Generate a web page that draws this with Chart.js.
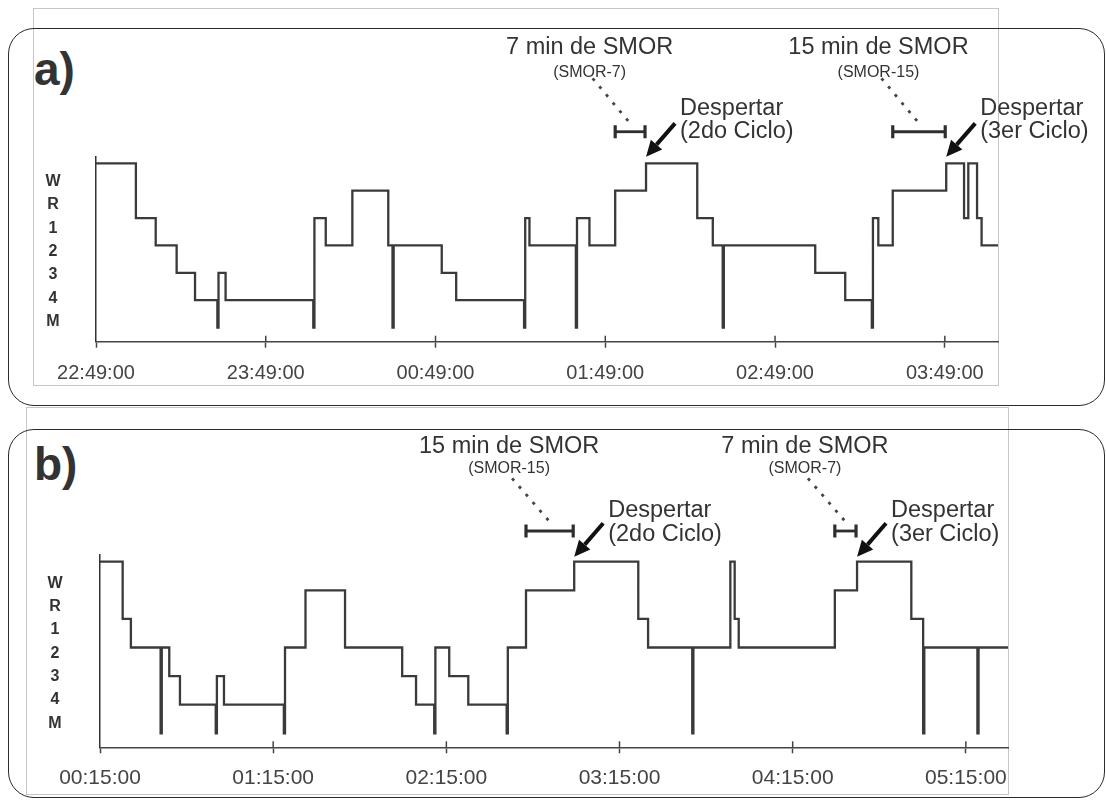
<!DOCTYPE html>
<html>
<head>
<meta charset="utf-8">
<title>Hipnogramas</title>
<script src="https://cdn.jsdelivr.net/npm/chart.js@4.4.0/dist/chart.umd.min.js"></script>
<style>
  body { margin: 0; width: 1106px; height: 803px; background: #fff; position: relative; overflow: hidden;
         font-family: "Liberation Sans", Arial, sans-serif; }
  .frame { position: absolute; border: 1px solid #c6c6c6; box-sizing: border-box; }
  .panel { position: absolute; border: 1.5px solid #2b2b2b; border-radius: 26px; box-sizing: border-box; }
  .letter { position: absolute; font-weight: bold; font-size: 46px; line-height: 46px; color: #333; }
  .holder { position: absolute; left: 0; width: 1106px; }
</style>
</head>
<body>
<div class="frame" style="left:33px;top:8px;width:966px;height:378px"></div>
<div class="panel" style="left:8px;top:28px;width:1097px;height:378px"></div>
<div class="frame" style="left:26px;top:407px;width:983px;height:388px"></div>
<div class="panel" style="left:8px;top:429px;width:1097px;height:369px"></div>
<div class="letter" style="left:34px;top:46px">a)</div>
<div class="letter" style="left:34px;top:441px">b)</div>
<div class="holder" style="top:0;height:400px"><canvas id="chartA"></canvas></div>
<div class="holder" style="top:400px;height:403px"><canvas id="chartB"></canvas></div>

<script>
// sleep stages, bottom to top
const stageNames = ['M', '4', '3', '2', '1', 'R', 'W'];

// a) minutes after 22:49:00 and the stage that starts there
const minutesA = [0, 14.1, 21.1, 28.5, 35, 42.9, 43.3, 45.8, 76.8, 77.2,
                  81.2, 90.6, 103.3, 104.8, 105.2, 122.2, 127.3, 151.3, 151.7, 153.2,
                  169.6, 170, 174.4, 183.5, 194.4, 212.5, 218, 221.5, 221.9, 254.2,
                  264.8, 274.2, 274.6, 276.5, 281.6, 300.5, 306.8, 308.3, 311.4, 313, 318.8];
const stagesA = ['W', '1', '2', '3', '4', 'M', '3', '4', 'M', '1',
                 '2', 'R', '2', 'M', '2', '3', '4', 'M', '1', '2',
                 'M', '1', '2', 'R', 'W', '1', '2', 'M', '2', '3',
                 '4', 'M', '1', '2', 'R', 'W', '1', 'W', '1', '2', '2'];
const tickMinutesA = [0, 60, 120, 180, 240, 300];
const tickLabelsA = ['22:49:00', '23:49:00', '00:49:00', '01:49:00', '02:49:00', '03:49:00'];
const wakeA = [194.4, 300.5];
const smorTitlesA = ['7 min de SMOR', '15 min de SMOR'];
const smorTagsA = ['(SMOR-7)', '(SMOR-15)'];
const cyclesA = ['(2do Ciclo)', '(3er Ciclo)'];

// b) minutes after 00:15:00
const minutesB = [0, 7.85, 10.7, 21.0, 21.4, 24, 27.7, 40.1, 40.5, 42.95,
                  63.7, 64.1, 71.2, 84.9, 104.7, 109.5, 115.8, 116.2, 121, 127.6,
                  140.9, 141.3, 147.6, 164.3, 186.5, 189.9, 205.2, 205.6, 218.4, 219.9,
                  221.3, 254.6, 262.3, 281.1, 285.2, 285.6, 304, 304.4, 314.6];
const stagesB = ['W', '1', '2', 'M', '2', '3', '4', 'M', '3', '4',
                 'M', '2', 'R', '2', '3', '4', 'M', '2', '3', '4',
                 'M', '2', 'R', 'W', '1', '2', 'M', '2', 'W', '1',
                 '2', 'R', 'W', '1', 'M', '2', 'M', '2', '2'];
const tickMinutesB = [0, 60, 120, 180, 240, 300];
const tickLabelsB = ['00:15:00', '01:15:00', '02:15:00', '03:15:00', '04:15:00', '05:15:00'];
const wakeB = [164.3, 262.3];
const smorTitlesB = ['15 min de SMOR', '7 min de SMOR'];
const smorTagsB = ['(SMOR-15)', '(SMOR-7)'];
const cyclesB = ['(2do Ciclo)', '(3er Ciclo)'];

const BIG = '23.5px "Liberation Sans", Arial, sans-serif';
const SMALL = '16px "Liberation Sans", Arial, sans-serif';

// REM bracket, dotted leader, labels and wake arrow for each awakening
const hypnoNotes = {
  id: 'hypnoNotes',
  afterDraw(chart, args, o) {
    const ctx = chart.ctx;
    const xs = chart.scales.x;
    const ys = chart.scales.y;
    const L = o.layout;
    ctx.save();

    // tick marks also rise above the time axis
    ctx.strokeStyle = '#444';
    ctx.lineWidth = 1.5;
    xs.ticks.forEach((t, i) => {
      if (i === 0) return;
      const px = xs.getPixelForValue(t.value);
      ctx.beginPath();
      ctx.moveTo(px, xs.top);
      ctx.lineTo(px, xs.top - 6);
      ctx.stroke();
    });

    const wY = ys.getPixelForValue(stageNames.indexOf('W'));
    o.wake.forEach((t, i) => {
      const k = o.minutes.indexOf(t);
      const x0 = xs.getPixelForValue(o.minutes[k - 1]);
      const x1 = xs.getPixelForValue(t) - 1;
      const by = wY + L.bracketDy;
      const cx = (x0 + x1) / 2;

      // bracket over the REM stretch
      ctx.strokeStyle = '#2e2e2e';
      ctx.lineWidth = 2.8;
      ctx.beginPath();
      ctx.moveTo(x0, by); ctx.lineTo(x1, by);
      ctx.stroke();
      ctx.lineWidth = 3.2;
      ctx.beginPath();
      ctx.moveTo(x0, by - 6.5); ctx.lineTo(x0, by + 6.5);
      ctx.moveTo(x1, by - 6.5); ctx.lineTo(x1, by + 6.5);
      ctx.stroke();

      // dotted leader
      const sx = cx - 37.5;
      ctx.setLineDash([3, 7.5]);
      ctx.lineWidth = 2.8;
      ctx.strokeStyle = '#444';
      ctx.beginPath();
      ctx.moveTo(sx, by + L.dotDy0);
      ctx.lineTo(cx, by + L.dotDy1);
      ctx.stroke();
      ctx.setLineDash([]);

      ctx.fillStyle = '#333';
      ctx.textAlign = 'center';
      ctx.textBaseline = 'alphabetic';
      ctx.font = SMALL;
      ctx.fillText(o.tags[i], sx - 3, by + L.tagDy);
      ctx.font = BIG;
      ctx.fillText(o.titles[i], sx - 3, by + L.titleDy);

      // wake arrow
      const hx = x1 + 1, hy = wY + L.headDy;
      const tx = x1 + 30, ty = wY + L.tailDy;
      const ang = Math.atan2(hy - ty, hx - tx);
      const len = 16, half = 7.5;
      const bx = hx - len * Math.cos(ang), byy = hy - len * Math.sin(ang);
      ctx.strokeStyle = '#111';
      ctx.fillStyle = '#111';
      ctx.lineWidth = 4;
      ctx.beginPath();
      ctx.moveTo(tx, ty); ctx.lineTo(bx, byy);
      ctx.stroke();
      ctx.beginPath();
      ctx.moveTo(hx, hy);
      ctx.lineTo(bx + half * Math.sin(ang), byy - half * Math.cos(ang));
      ctx.lineTo(bx - half * Math.sin(ang), byy + half * Math.cos(ang));
      ctx.closePath();
      ctx.fill();

      ctx.fillStyle = '#333';
      ctx.textAlign = 'left';
      ctx.font = BIG;
      ctx.fillText('Despertar', x1 + 35, by + L.despDy);
      ctx.fillText(o.cycles[i], x1 + 35, by + L.cycleDy);
    });
    ctx.restore();
  }
};

function makeHypnogram(id, p) {
  const points = p.minutes.map((m, i) => ({ x: m, y: stageNames.indexOf(p.stages[i]) }));
  return new Chart(document.getElementById(id), {
    type: 'line',
    data: {
      datasets: [{
        data: points,
        stepped: true,
        borderColor: '#3a3a3a',
        borderWidth: 2.3,
        pointRadius: 0,
        fill: false,
        clip: false
      }]
    },
    options: {
      responsive: true,
      maintainAspectRatio: false,
      animation: false,
      layout: { padding: p.padding },
      plugins: {
        legend: { display: false },
        tooltip: { enabled: false },
        hypnoNotes: {
          minutes: p.minutes, wake: p.wake, titles: p.titles, tags: p.tags,
          cycles: p.cycles, layout: p.notes
        }
      },
      scales: {
        x: {
          type: 'linear',
          min: 0,
          max: p.end,
          afterBuildTicks: s => { s.ticks = p.tickMinutes.map(v => ({ value: v })); },
          afterFit: s => { s.height = 45; },
          ticks: {
            autoSkip: false,
            maxRotation: 0,
            padding: p.tickPad,
            color: '#444',
            font: { family: '"Liberation Sans", Arial, sans-serif', size: p.tickSize },
            callback: v => p.tickLabels[p.tickMinutes.indexOf(v)]
          },
          grid: { display: true, drawOnChartArea: false, drawTicks: true, tickLength: 6, tickColor: '#444', tickWidth: 1.5 },
          border: { display: true, color: '#444', width: 1.5 }
        },
        y: { type: 'linear', display: false, min: p.yMin, max: p.yMax },
        stage: {
          type: 'linear',
          position: 'left',
          min: p.labelMin,
          max: p.labelMax,
          afterBuildTicks: s => { s.ticks = stageNames.map((_, i) => ({ value: i })); },
          afterFit: s => { s.width = 60; },
          ticks: {
            crossAlign: 'center',
            padding: p.labelPad,
            color: '#333',
            font: { family: '"Liberation Sans", Arial, sans-serif', size: 16, weight: 'bold' },
            callback: v => stageNames[v]
          },
          grid: { display: false, drawTicks: false },
          border: { display: true, color: '#333', width: 1.5 }
        }
      }
    },
    plugins: [hypnoNotes]
  });
}

makeHypnogram('chartA', {
  minutes: minutesA, stages: stagesA, end: 318.8,
  tickMinutes: tickMinutesA, tickLabels: tickLabelsA, tickSize: 20, tickPad: 14,
  wake: wakeA, titles: smorTitlesA, tags: smorTagsA, cycles: cyclesA,
  padding: { left: 36, right: 108, top: 156.7, bottom: 13.3 },
  yMin: -0.515, yMax: 6.242, labelMin: -0.857, labelMax: 7.072, labelPad: 35.5,
  notes: { bracketDy: -31.6, dotDy0: -53.4, dotDy1: -8.4, tagDy: -55, titleDy: -77.4,
           despDy: -16.7, cycleDy: 6.6, headDy: -6.6, tailDy: -40 }
});

makeHypnogram('chartB', {
  minutes: minutesB, stages: stagesB, end: 314.6,
  tickMinutes: tickMinutesB, tickLabels: tickLabelsB, tickSize: 21, tickPad: 12,
  wake: wakeB, titles: smorTitlesB, tags: smorTagsB, cycles: cyclesB,
  padding: { left: 40, right: 98, top: 155, bottom: 10.7 },
  yMin: -0.49, yMax: 6.234, labelMin: -1.029, labelMax: 7.214, labelPad: 37.5,
  notes: { bracketDy: -30.7, dotDy0: -52.7, dotDy1: -9.3, tagDy: -57.7, titleDy: -77.7,
           despDy: -14.3, cycleDy: 9.7, headDy: -5, tailDy: -38.4 }
});
</script>
</body>
</html>
